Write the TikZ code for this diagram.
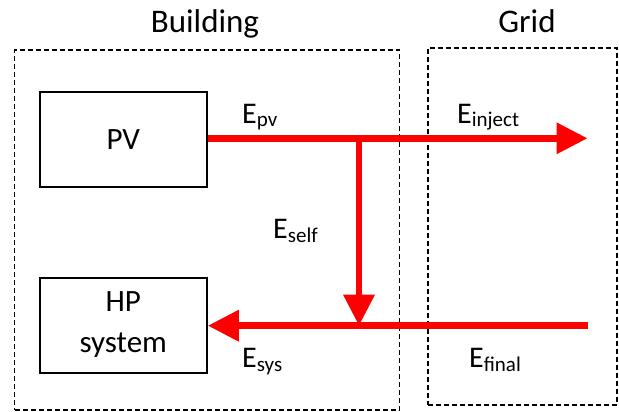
\documentclass[tikz,border=0pt]{standalone}
\usepackage{fontspec}
\setmainfont{Carlito}
\usetikzlibrary{arrows.meta, positioning}
\newcommand{\esub}[1]{\raisebox{-4pt}{\fontsize{21}{21}\selectfont #1}}

\begin{document}
\begin{tikzpicture}[x=1pt, y=-1pt,
        zone/.style={rectangle, draw, dash pattern=on 5pt off 3pt, line width=1.3pt, inner sep=0pt},
        zonename/.style={font=\fontsize{33}{36}\selectfont, anchor=base},
        unit/.style={rectangle, draw, line width=2pt, minimum width=167pt, minimum height=95pt, font=\fontsize{31}{41}\selectfont, align=center},
        flow/.style={draw=red, line width=6.5pt, -{Triangle[length=31pt, width=30pt]}},
        energy/.style={font=\fontsize{30}{32}\selectfont, anchor=base west, inner sep=0pt}
    ]
    \useasboundingbox (0,0) rectangle (619,412);

    % zones
    \node[zone, minimum width=385pt, minimum height=360pt] (building) at (207.3,230) {};
    \node[zone, minimum width=189pt, minimum height=357pt] (grid) at (522.5,226.4) {};
    \node[zonename] (buildingname) at (205,33) {Building};
    \node[zonename] (gridname) at (527,33) {Grid};

    % units
    \node[unit] (pv) at (123.3,139.2) {PV};
    \node[unit] (hp) at (123.3,325) {HP\\system};

    \coordinate (inject) at (587.5,138.3);
    \coordinate (final) at (587.5,325.7);
    \coordinate (tap) at (359,138.3);

    \draw[flow] (pv.east |- inject) -- (inject);
    \draw[flow] (final) -- (hp.east |- final);
    \draw[flow] (tap) -- (tap |- final);

    \node[energy] (epv) at (242,123) {E\esub{pv}};
    \node[energy] (einject) at (457,123) {E\esub{inject}};
    \node[energy] (eself) at (273,238) {E\esub{self}};
    \node[energy] (esys) at (242,367) {E\esub{sys}};
    \node[energy] (efinal) at (469,367) {E\esub{final}};
\end{tikzpicture}
\end{document}
